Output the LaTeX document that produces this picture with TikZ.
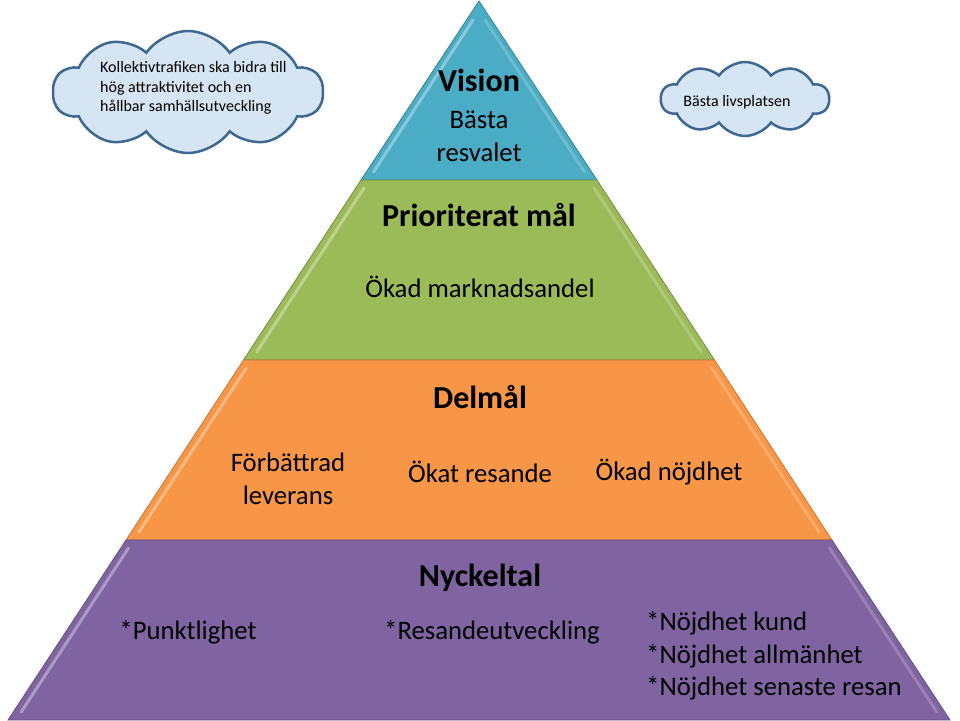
\documentclass[tikz,border=0pt]{standalone}
\usepackage{fontspec}
\setmainfont{Carlito}
\usetikzlibrary{shapes.symbols}
\definecolor{cblue}{HTML}{4BACC6}
\definecolor{cgreen}{HTML}{9BBB59}
\definecolor{corange}{HTML}{F79646}
\definecolor{cpurple}{HTML}{8064A2}
\definecolor{cloudfill}{HTML}{D6E5F3}
\definecolor{cloudline}{HTML}{3D6891}
\begin{document}
\begin{tikzpicture}[x=1pt,y=-1pt,
  title/.style={font=\fontsize{32}{38}\selectfont\bfseries, inner sep=0pt},
  body/.style={font=\fontsize{26.7}{33}\selectfont, inner sep=0pt, align=center},
  blist/.style={font=\fontsize{26.7}{32.5}\selectfont, inner sep=0pt, align=left},
  ctext/.style={font=\fontsize{16}{19.5}\selectfont, inner sep=0pt, align=left},
  cloudbox/.style={cloud, cloud puffs=10, cloud puff arc=110, cloud ignores aspect, draw=cloudline, line width=2.5pt, fill=cloudfill, inner sep=0pt},
  hl/.style={white, opacity=.35, line width=3pt, line cap=round},
  hr/.style={white, opacity=.2, line width=3pt, line cap=round}]
\useasboundingbox (0,0) rectangle (960,720);
% layers
\filldraw[fill=cblue, draw=cblue!75!black, line width=.8pt] (479,1) -- (597,180) -- (361,180) -- cycle;
\filldraw[fill=cgreen, draw=cgreen!75!black, line width=.8pt] (361,180) -- (597,180) -- (714.5,360) -- (243.5,360) -- cycle;
\filldraw[fill=corange, draw=corange!80!black, line width=.8pt] (243.5,360) -- (714.5,360) -- (832,540) -- (126,540) -- cycle;
\filldraw[fill=cpurple, draw=cpurple!80!black, line width=.8pt] (126,540) -- (832,540) -- (950,720) -- (8,720) -- cycle;
% bevel highlights
\draw[hl] (473,20) -- (373.5,172);
\draw[hr] (485,20) -- (584.5,172);
\draw[hl] (364,188) -- (256.7,352);
\draw[hr] (594,188) -- (701.3,352);
\draw[hl] (246.3,368) -- (139,532);
\draw[hr] (711.7,368) -- (819,532);
\draw[hl] (128.5,548) -- (21.2,712);
\draw[hr] (829.5,548) -- (936.8,712);
% texts
\node[title] (vision) at (479,80) {Vision};
\node[body] (vtext) at (479,136) {Bästa\\resvalet};
\node[title] (prio) at (479,215) {Prioriterat mål};
\node[body] (ptext) at (480,287) {Ökad marknadsandel};
\node[title] (delmal) at (480,397) {Delmål};
\node[body] (d1) at (288,479) {Förbättrad\\leverans};
\node[body] (d2) at (480,472) {Ökat resande};
\node[body] (d3) at (669,472) {Ökad nöjdhet};
\node[title] (nyckel) at (480,578) {Nyckeltal};
\node[body] (n1) at (188,632) {*Punktlighet};
\node[body] (n2) at (492,632) {*Resandeutveckling};
\node[blist, anchor=west] (n3) at (646,656) {*Nöjdhet kund\\*Nöjdhet allmänhet\\*Nöjdhet senaste resan};
% clouds
\node[cloudbox, minimum width=270pt, minimum height=122pt, shape border rotate=8] (cloudL) at (188,92) {};
\node[ctext, anchor=west] (cloudLtext) at (100,88) {Kollektivtrafiken ska bidra till\\hög attraktivitet och en\\hållbar samhällsutveckling};
\node[cloudbox, minimum width=168pt, minimum height=74pt] (cloudR) at (745,99) {};
\node[ctext] (cloudRtext) at (737,102) {Bästa livsplatsen};
\end{tikzpicture}
\end{document}
